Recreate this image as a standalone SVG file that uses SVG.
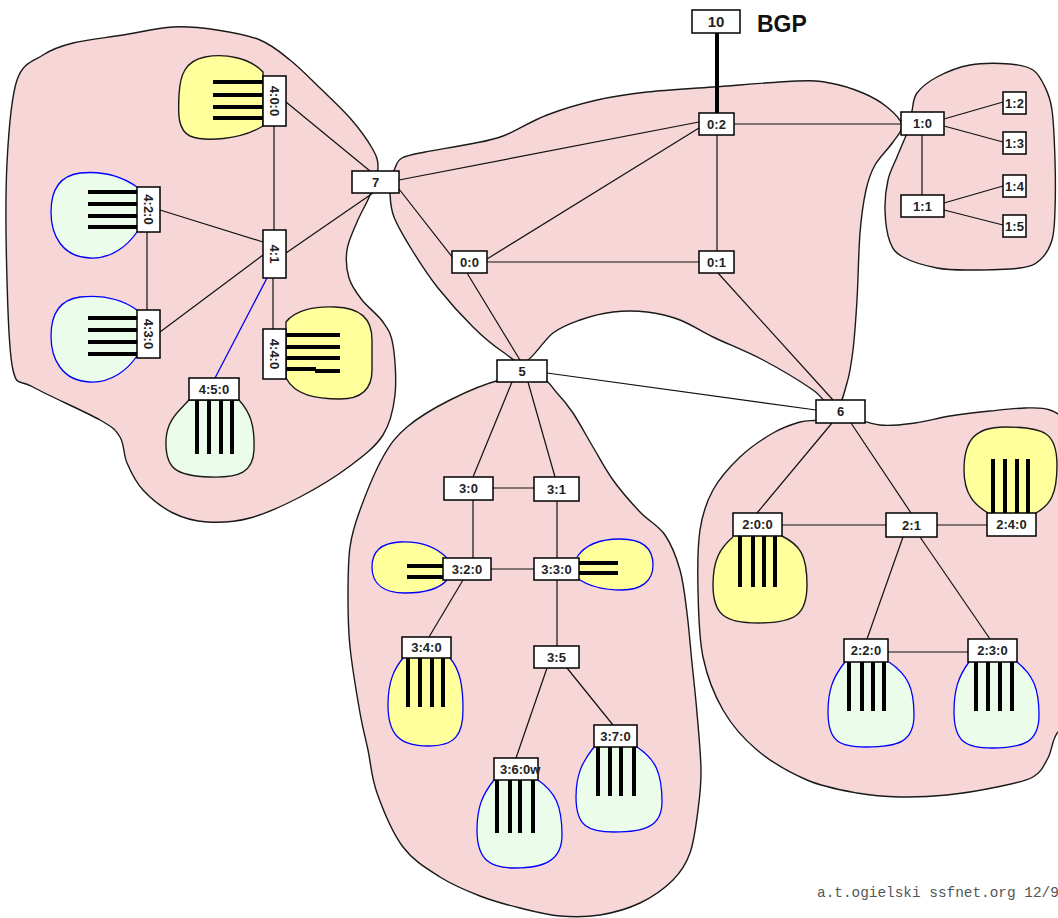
<svg xmlns="http://www.w3.org/2000/svg" width="1058" height="918" viewBox="0 0 1058 918">
  <style>
    .dom { fill: #f6d6d6; stroke: #1a1a1a; stroke-width: 1.4; }
    .lan-y { fill: #ffff9c; stroke: #1a1a1a; stroke-width: 1.4; }
    .lan-yb { fill: #ffff9c; stroke: #0000ff; stroke-width: 1.3; }
    .lan-g { fill: #ebfceb; stroke: #0000ff; stroke-width: 1.3; }
    .lan-gk { fill: #ebfceb; stroke: #1a1a1a; stroke-width: 1.4; }
    .edge { stroke: #111; stroke-width: 1.2; fill: none; }
    .edge-b { stroke: #0000ee; stroke-width: 1.3; fill: none; }
    .edge-bgp { stroke: #000; stroke-width: 4; fill: none; }
    .bar { stroke: #000; stroke-width: 4; fill: none; }
    .box { fill: #fff; stroke: #000; stroke-width: 1.5; }
    .lbl { font-family: "Liberation Sans", Arial, sans-serif; font-weight: bold; font-size: 13px; fill: #222; text-anchor: middle; }
  </style>

  <rect width="1058" height="918" fill="#fff"/>

  <!-- AS domains -->
  <g id="domains">
    <path id="as4" class="dom" d="M17,80 C23,62 33.7,61.2 43,55 S59.7,46.3 73,43 S106.3,37.7 123,35 S157.3,27.8 173,27 S202.5,27.8 217,30 S247.8,35 260,40 S280,52 290,60 S310,78.3 320,88 S341.3,108 350,118 S367.3,139.7 372,148 S378.3,160.2 378,168 S373.5,186 370,195 S360.8,212.8 357,222 S348.3,240.7 347,250 S346.5,269.7 349,278 S356.3,292.7 362,300 S377.8,314.5 383,322 S391,332.8 393,345 S396.7,380 395,395 S390.5,423.2 383,435 S363.8,455.7 350,466 S316.7,488.3 300,497 S265.5,513.8 250,518 S219.8,522.8 207,522 S183.7,518.3 173,513 S150.7,498.3 143,490 S130.8,471.8 127,463 S124.5,444.2 120,437 S114.5,428.3 100,420 S47.5,395.3 33,387 S17.3,387.8 13,370 S8,314.5 7,280 S5.3,196.3 7,163 S11,98 17,80 Z"/>
    <path id="as0" class="dom" d="M395,168 C396.7,164.3 397,160.7 402,158 S413.7,154.3 425,152 S457,146.7 470,144 S490.2,140.8 503,136 S531.3,121 547,115 S580.3,103.8 597,100 S627.7,94.2 647,92 S688,88.8 713,87 S777.5,81.7 797,81 S819,81 830,83 S853.5,89 863,93 S880.5,101.7 887,107 S901,119.2 902,125 S897.5,135.3 893,142 S879.5,157 875,165 S868.5,178.7 866,190 S861.5,214.7 860,233 S858.2,280.5 857,300 S854.7,336.2 853,350 S850,373 847,383 S840.7,408.8 835,410 S825,398.3 813,390 S779.7,368.8 763,360 S726.8,343.7 713,337 S691,324.2 680,320 S658.2,313.3 647,312 S624.2,310.7 613,312 S590,316.5 580,320 S562.2,326 553,333 S532.7,359.2 525,362 S511.7,357.8 503,352 S483.8,337.7 473,327 S448.2,300.8 438,288 S419.3,261.8 412,250 S397.7,226.5 394,217 S390.3,199.2 390,193 S391.2,184.2 392,180 S393.3,171.7 395,168 Z"/>
    <path id="as1" class="dom" d="M912,111 C913.2,105.7 912.8,98.7 917,93 S928.2,81.7 937,77 S957.8,67.2 970,65 S999.5,63.2 1010,64 S1027.2,66.2 1033,70 S1041.8,80.3 1045,87 S1050.3,97.8 1052,110 S1054.5,143.3 1055,160 S1055.5,196.7 1055,210 S1054.5,231.7 1052,240 S1045.3,255.3 1040,260 S1031.7,266.3 1020,268 S983.8,270 970,270 S948.2,270.2 937,268 S910.8,261.3 903,257 S893,249.8 890,242 S885.3,220.3 885,210 S886,188.8 888,180 S894.2,164 897,157 S902.8,143.3 905,138 S908.8,129.5 910,125 S910.8,116.3 912,111 Z"/>
    <path id="as3" class="dom" d="M540,378 C549.5,380.2 551.5,387.2 557,393 S567,404 573,413 S586.3,435.8 593,447 S605.2,469.2 613,480 S631.3,502.8 640,512 S658.3,525.3 665,535 S676.3,557 680,570 S685,597.5 687,613 S690.3,646.3 692,663 S695.5,695.2 697,713 S700.8,753.8 701,770 S699.8,796.2 698,810 S694.2,841.3 690,853 S681.3,871.7 673,880 S652.2,897.2 640,903 S613.3,912.8 600,915 S573.3,917.2 560,916 S533.3,911.3 520,908 S493.3,901.2 480,896 S452.8,885.2 440,877 S413.5,861 403,847 S382.8,809.2 377,793 S370.8,763.3 368,750 S363,730.2 360,713 S352,666.3 350,647 S348,613.7 348,597 S348,561.5 350,547 S354.5,525 360,510 S375.2,470.8 383,457 S395.8,436.5 407,427 S434.5,407.8 450,400 S485,383.7 500,380 S530.5,375.8 540,378 Z"/>
    <path id="as2" class="dom" d="M840,415 C850.3,415.8 867.5,423.7 880,425 S903.3,424.5 915,423 S937.5,418 950,416 S977.5,412.3 990,411 S1015,408.2 1025,408 S1042.8,407.2 1050,410 C1062,414 1070,422 1070,440 L1070,700 C1070,715 1064,725 1058,732 S1052.2,750.5 1048,758 S1041.5,772.2 1033,777 S1011.3,784 997,787 S963.2,793.3 947,795 S915,797.3 900,797 S872.5,795.8 857,793 S823.7,787.2 807,780 S771,761.7 757,750 S732,725.5 723,710 S707.2,677 703,657 S698.5,611.2 698,590 S697.5,546.7 700,530 S706.3,502.2 713,490 S730,466.5 740,457 S763,438.8 773,433 S792.5,424.2 800,422 S811.3,421.2 818,420 S829.7,414.2 840,415 Z"/>
  </g>

  <!-- links -->
  <g id="connectors">
    <path class="edge-bgp" d="M717,33 V113"/>
    <path class="edge" d="M734,124 H901"/>
    <path class="edge" d="M699,122 L399,180"/>
    <path class="edge" d="M699,128 L487,259"/>
    <path class="edge" d="M717,135 V251"/>
    <path class="edge" d="M487,262 H699"/>
    <path class="edge" d="M399,189 L453,258"/>
    <path class="edge" d="M467,273 L520,360"/>
    <path class="edge" d="M718,273 L833,400"/>
    <path class="edge" d="M547,373 L816,410"/>
    <path class="edge" d="M286,102 L370,171"/>
    <path class="edge" d="M286,253 L373,193"/>
    <path class="edge" d="M274,126 V230"/>
    <path class="edge" d="M160,210 L263,242"/>
    <path class="edge" d="M147,232 V310"/>
    <path class="edge" d="M160,332 L263,255"/>
    <path class="edge" d="M273,278 V329"/>
    <path class="edge-b" d="M267,278 L215,378"/>
    <path class="edge" d="M512,382 L473,477"/>
    <path class="edge" d="M528,382 L555,477"/>
    <path class="edge" d="M493,488 H534"/>
    <path class="edge" d="M473,500 V558"/>
    <path class="edge" d="M557,501 V558"/>
    <path class="edge" d="M491,569 H534"/>
    <path class="edge" d="M463,580 L429,637"/>
    <path class="edge" d="M557,580 V646"/>
    <path class="edge" d="M547,668 L516,758"/>
    <path class="edge" d="M567,668 L613,725"/>
    <path class="edge" d="M832,423 L757,513"/>
    <path class="edge" d="M851,423 L911,513"/>
    <path class="edge" d="M782,525 H886"/>
    <path class="edge" d="M937,525 H987"/>
    <path class="edge" d="M903,537 L867,639"/>
    <path class="edge" d="M920,537 L990,639"/>
    <path class="edge" d="M888,652 H968"/>
    <path class="edge" d="M944,119 L1003,102"/>
    <path class="edge" d="M944,126 L1003,142"/>
    <path class="edge" d="M922,135 V195"/>
    <path class="edge" d="M944,203 L1003,186"/>
    <path class="edge" d="M944,210 L1003,225"/>
  </g>

  <!-- BGP border router -->
  <g id="n10">
    <rect class="box" x="692" y="10" width="48" height="23"/>
    <text class="lbl" x="716" y="27" style="font-size:15px">10</text>
    <text x="757" y="32" style="font-family:'Liberation Sans',Arial,sans-serif;font-weight:bold;font-size:23px;fill:#111">BGP</text>
  </g>

  <!-- AS 0 routers -->
  <g id="n0-2"><rect class="box" x="699" y="113" width="35" height="22"/><text class="lbl" x="716.5" y="128.6">0:2</text></g>
  <g id="n0-0"><rect class="box" x="452" y="251" width="35" height="22"/><text class="lbl" x="469.5" y="266.6">0:0</text></g>
  <g id="n0-1"><rect class="box" x="699" y="251" width="35" height="22"/><text class="lbl" x="716.5" y="266.6">0:1</text></g>

  <!-- backbone routers -->
  <g id="n5"><rect class="box" x="497" y="360" width="50" height="22"/><text class="lbl" x="522" y="375.6">5</text></g>
  <g id="n6"><rect class="box" x="816" y="400" width="49" height="23"/><text class="lbl" x="840.5" y="416.1">6</text></g>
  <g id="n7"><rect class="box" x="352" y="171" width="47" height="22"/><text class="lbl" x="375.5" y="186.6">7</text></g>

  <!-- AS 1 -->
  <g id="n1-0"><rect class="box" x="901" y="112" width="43" height="23"/><text class="lbl" x="922.5" y="128.1">1:0</text></g>
  <g id="n1-1"><rect class="box" x="901" y="195" width="43" height="22"/><text class="lbl" x="922.5" y="210.6">1:1</text></g>
  <g id="n1-2"><rect class="box" x="1003" y="92" width="23" height="22"/><text class="lbl" x="1014.5" y="107.6">1:2</text></g>
  <g id="n1-3"><rect class="box" x="1003" y="132" width="23" height="22"/><text class="lbl" x="1014.5" y="147.6">1:3</text></g>
  <g id="n1-4"><rect class="box" x="1003" y="175" width="23" height="22"/><text class="lbl" x="1014.5" y="190.6">1:4</text></g>
  <g id="n1-5"><rect class="box" x="1003" y="215" width="23" height="22"/><text class="lbl" x="1014.5" y="230.6">1:5</text></g>

  <!-- AS 4 -->
  <g id="n4-0-0">
    <path class="lan-y" d="M263,72 C250,58 225,53 205,57 C185,61 180,75 179,95 C178,115 178,130 190,136 C205,142 240,140 263,126 Z"/>
    <path class="bar" d="M213,82 H265 M213,95 H265 M213,107 H265 M213,118 H265"/>
    <rect class="box" x="263" y="76" width="23" height="50"/>
    <text class="lbl" transform="translate(274.5,101) rotate(90)" x="0" y="4.6">4:0:0</text>
  </g>
  <g id="n4-2-0">
    <path class="lan-g" d="M137,187 C120,175 100,171 80,173 C58,176 51,192 51,212 C51,235 62,257 90,258 C112,259 128,245 137,232"/>
    <path class="bar" d="M88,192 H139 M88,204 H139 M88,216 H139 M88,227 H139"/>
    <rect class="box" x="137" y="187" width="23" height="45"/>
    <text class="lbl" transform="translate(148.5,209.5) rotate(90)" x="0" y="4.6">4:2:0</text>
  </g>
  <g id="n4-1">
    <rect class="box" x="263" y="230" width="23" height="48"/>
    <text class="lbl" transform="translate(274.5,254) rotate(90)" x="0" y="4.6">4:1</text>
  </g>
  <g id="n4-3-0">
    <path class="lan-g" d="M137,310 C120,298 100,295 80,297 C58,300 51,316 51,336 C51,359 62,381 90,382 C112,383 128,369 137,356"/>
    <path class="bar" d="M88,318 H139 M88,330 H139 M88,342 H139 M88,354 H139"/>
    <rect class="box" x="137" y="310" width="23" height="48"/>
    <text class="lbl" transform="translate(148.5,334) rotate(90)" x="0" y="4.6">4:3:0</text>
  </g>
  <g id="n4-4-0">
    <path class="lan-y" d="M286,322 C295,310 315,306 335,307 C360,308 372,318 372,340 L372,370 C372,390 360,399 340,399 C315,399 295,395 286,378 Z"/>
    <path class="bar" d="M284,335 H340 M284,347 H340 M284,358 H340 M284,369 H316 M315,371 H340"/>
    <rect class="box" x="263" y="329" width="23" height="50"/>
    <text class="lbl" transform="translate(274.5,354) rotate(90)" x="0" y="4.6">4:4:0</text>
  </g>
  <g id="n4-5-0">
    <path class="lan-gk" d="M189,400 C178,412 167,420 166,440 C165,468 175,476 210,477 C240,478 253,472 254,450 C255,425 250,412 239,400 Z"/>
    <path class="bar" d="M197,398 V454 M209,398 V454 M221,398 V454 M232,398 V454"/>
    <rect class="box" x="189" y="378" width="50" height="22"/>
    <text class="lbl" x="214" y="393.6">4:5:0</text>
  </g>

  <!-- AS 3 -->
  <g id="n3-0"><rect class="box" x="444" y="477" width="49" height="23"/><text class="lbl" x="468.5" y="493.1">3:0</text></g>
  <g id="n3-1"><rect class="box" x="534" y="477" width="45" height="24"/><text class="lbl" x="556.5" y="493.6">3:1</text></g>
  <g id="n3-2-0">
    <path class="lan-yb" d="M447,558 C435,546 420,541 400,542 C380,543 372,552 372,567 C372,585 385,593 405,593 C425,593 440,588 447,580"/>
    <path class="bar" d="M407,566 H445 M407,577 H445"/>
    <rect class="box" x="443" y="558" width="48" height="22"/>
    <text class="lbl" x="467" y="573.6">3:2:0</text>
  </g>
  <g id="n3-3-0">
    <path class="lan-yb" d="M577,557 C585,545 600,539 620,539 C642,539 653,548 653,565 C653,582 640,590 622,590 C602,590 588,586 577,578"/>
    <path class="bar" d="M577,563 H618 M577,573 H618"/>
    <rect class="box" x="534" y="558" width="45" height="22"/>
    <text class="lbl" x="556.5" y="573.6">3:3:0</text>
  </g>
  <g id="n3-4-0">
    <path class="lan-yb" d="M403,658 C395,668 388,680 388,705 C388,735 400,746 428,746 C455,746 463,735 463,710 C463,685 460,670 450,658"/>
    <path class="bar" d="M408,656 V707 M420,656 V707 M432,656 V707 M443,656 V707"/>
    <rect class="box" x="402" y="637" width="49" height="21"/>
    <text class="lbl" x="426.5" y="652.1">3:4:0</text>
  </g>
  <g id="n3-5"><rect class="box" x="534" y="646" width="45" height="22"/><text class="lbl" x="556.5" y="661.6">3:5</text></g>
  <g id="n3-6-0w">
    <path class="lan-g" d="M494,780 C482,795 477,808 477,830 C477,860 490,868 515,868 C545,868 562,860 562,835 C562,805 555,792 538,780"/>
    <path class="bar" d="M497,778 V833 M510,778 V833 M520,778 V833 M533,778 V833"/>
    <rect class="box" x="494" y="758" width="44" height="22"/>
    <text class="lbl" x="500" y="773.6" style="text-anchor:start">3:6:0w</text>
  </g>
  <g id="n3-7-0">
    <path class="lan-g" d="M594,747 C582,762 576,775 576,797 C576,827 589,832 614,832 C644,832 662,827 662,802 C662,772 655,759 637,747"/>
    <path class="bar" d="M598,745 V796 M610,745 V796 M621,745 V796 M634,745 V796"/>
    <rect class="box" x="594" y="725" width="43" height="22"/>
    <text class="lbl" x="615.5" y="740.6">3:7:0</text>
  </g>

  <!-- AS 2 -->
  <g id="n2-0-0">
    <path class="lan-y" d="M733,537 C720,548 713,560 713,585 C713,615 725,623 758,623 C795,623 807,615 807,585 C807,555 800,545 782,536"/>
    <path class="bar" d="M740,534 V587 M753,534 V587 M764,534 V587 M775,534 V587"/>
    <rect class="box" x="733" y="513" width="49" height="23"/>
    <text class="lbl" x="757.5" y="529.1">2:0:0</text>
  </g>
  <g id="n2-1"><rect class="box" x="886" y="513" width="51" height="24"/><text class="lbl" x="911.5" y="529.6">2:1</text></g>
  <g id="n2-4-0">
    <path class="lan-y" d="M988,513 C975,505 964,495 964,470 C964,440 975,427 1005,427 C1045,427 1057,433 1057,465 C1057,495 1050,505 1036,513"/>
    <path class="bar" d="M993,459 V515 M1005,459 V515 M1017,459 V515 M1028,459 V515"/>
    <rect class="box" x="987" y="513" width="49" height="23"/>
    <text class="lbl" x="1011.5" y="529.1">2:4:0</text>
  </g>
  <g id="n2-2-0">
    <path class="lan-g" d="M845,662 C833,677 828,690 828,712 C828,742 840,747 866,747 C898,747 914,742 914,715 C914,688 908,675 889,662"/>
    <path class="bar" d="M849,660 V711 M862,660 V711 M873,660 V711 M884,660 V711"/>
    <rect class="box" x="844" y="639" width="44" height="23"/>
    <text class="lbl" x="866" y="655.1">2:2:0</text>
  </g>
  <g id="n2-3-0">
    <path class="lan-g" d="M969,662 C958,677 954,690 954,712 C954,742 966,748 992,748 C1024,748 1039,742 1039,715 C1039,688 1033,675 1017,662"/>
    <path class="bar" d="M976,660 V711 M988,660 V711 M1000,660 V711 M1012,660 V711"/>
    <rect class="box" x="968" y="639" width="49" height="23"/>
    <text class="lbl" x="992.5" y="655.1">2:3:0</text>
  </g>

  <text x="817" y="897" style="font-family:'Liberation Mono','Courier New',monospace;font-size:14.4px;fill:#555">a.t.ogielski ssfnet.org 12/9</text>
</svg>
